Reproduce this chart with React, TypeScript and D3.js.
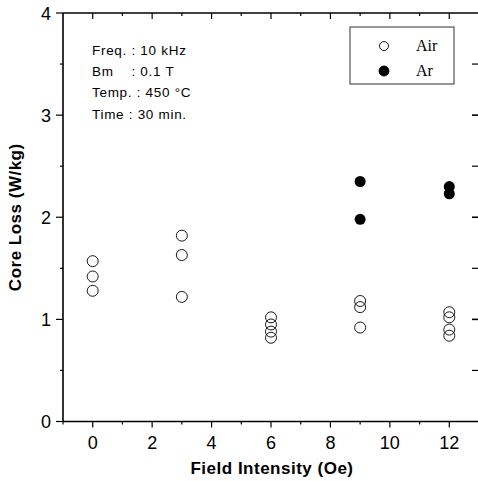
import { useEffect, useRef } from 'react'
import * as d3 from 'd3'

const W = 478, H = 481
const M = { left: 63, right: -1, top: 13, bottom: 59.5 }

const airX = [0, 0, 0, 3, 3, 3, 6, 6, 6, 6, 9, 9, 9, 12, 12, 12, 12]
const airY = [1.57, 1.42, 1.28, 1.82, 1.63, 1.22, 1.02, 0.95, 0.88, 0.82, 1.18, 1.12, 0.92, 1.07, 1.02, 0.9, 0.84]
const arX = [9, 9, 12, 12]
const arY = [2.35, 1.98, 2.3, 2.23]
const xTicks = [0, 2, 4, 6, 8, 10, 12]
const yTicks = [0, 1, 2, 3, 4]
const notes = ['Freq. : 10 kHz', 'Bm    : 0.1 T', 'Temp. : 450 °C', 'Time : 30 min.']
const legendItems = [{ label: 'Air', filled: false }, { label: 'Ar', filled: true }]

export default function App() {
  const ref = useRef<SVGSVGElement>(null)

  useEffect(() => {
    const svg = d3.select(ref.current)
    svg.selectAll('*').remove()
    const x = d3.scaleLinear([-1, 13], [M.left, W - M.right])
    const y = d3.scaleLinear([0, 4], [H - M.bottom, M.top])
    const sans = 'Liberation Sans, Arial, sans-serif'

    // frame lines
    svg.append('line').attr('x1', x(-1)).attr('x2', W).attr('y1', y(0)).attr('y2', y(0)).attr('stroke', '#000').attr('stroke-width', 1.6)
    svg.append('line').attr('x1', x(-1)).attr('x2', W).attr('y1', y(4)).attr('y2', y(4)).attr('stroke', '#000').attr('stroke-width', 1.6)
    svg.append('line').attr('x1', x(-1)).attr('x2', x(-1)).attr('y1', y(0)).attr('y2', y(4)).attr('stroke', '#000').attr('stroke-width', 1.6)

    // x ticks bottom (outward) and top (inward)
    d3.range(-1, 13).forEach(v => {
      const major = v % 2 === 0
      svg.append('line').attr('x1', x(v)).attr('x2', x(v)).attr('y1', y(0)).attr('y2', y(0) + (major ? 6 : 3)).attr('stroke', '#000').attr('stroke-width', 1.2)
      if (v >= 0)
        svg.append('line').attr('x1', x(v)).attr('x2', x(v)).attr('y1', y(4)).attr('y2', y(4) + (major ? 6 : 3)).attr('stroke', '#000').attr('stroke-width', 1.2)
    })
    // y ticks left (outward) and right (inward)
    d3.range(0, 4.01, 0.5).forEach(v => {
      const major = Number.isInteger(v)
      svg.append('line').attr('x1', x(-1) - (major ? 7 : 3)).attr('x2', x(-1)).attr('y1', y(v)).attr('y2', y(v)).attr('stroke', '#000').attr('stroke-width', 1.2)
      if (v > 0 && v < 4)
        svg.append('line').attr('x1', W - 6).attr('x2', W).attr('y1', y(v)).attr('y2', y(v)).attr('stroke', '#000').attr('stroke-width', major ? 1.6 : 1.2)
    })

    svg.selectAll('text.xt').data(xTicks).join('text').attr('class', 'xt')
      .attr('x', d => x(d)).attr('y', y(0) + 27).attr('text-anchor', 'middle')
      .attr('font-family', sans).attr('font-size', 18).text(d => d)
    svg.selectAll('text.yt').data(yTicks).join('text').attr('class', 'yt')
      .attr('x', x(-1) - 12).attr('y', d => y(d) + 6.5).attr('text-anchor', 'end')
      .attr('font-family', sans).attr('font-size', 18).text(d => d)

    svg.append('text').attr('x', 272).attr('y', 474).attr('text-anchor', 'middle')
      .attr('font-family', sans).attr('font-weight', 'bold').attr('font-size', 17).attr('letter-spacing', 0.5).text('Field Intensity (Oe)')
    svg.append('text').attr('transform', `translate(21,${y(2)}) rotate(-90)`).attr('text-anchor', 'middle')
      .attr('font-family', sans).attr('font-weight', 'bold').attr('font-size', 17).attr('letter-spacing', 0.5).text('Core Loss (W/kg)')

    // notes
    svg.selectAll('text.note').data(notes).join('text').attr('class', 'note')
      .attr('x', 92).attr('y', (_, i) => 55 + i * 21.2)
      .attr('font-family', sans).attr('font-size', 13.5).attr('letter-spacing', 0.7)
      .style('white-space', 'pre').text(d => d)

    // legend
    svg.append('rect').attr('x', 350).attr('y', 27).attr('width', 104).attr('height', 57)
      .attr('fill', 'none').attr('stroke', '#333').attr('stroke-width', 1)
    legendItems.forEach((it, i) => {
      const cy = 46 + i * 25
      svg.append('circle').attr('cx', 384).attr('cy', cy).attr('r', it.filled ? 5 : 4.5)
        .attr('fill', it.filled ? '#000' : 'none').attr('stroke', '#000').attr('stroke-width', 0.9)
      svg.append('text').attr('x', 416).attr('y', cy + 5).attr('font-family', 'Liberation Serif, serif')
        .attr('font-size', 16).text(it.label)
    })

    // data
    svg.selectAll('circle.air').data(airX.map((v, i) => [v, airY[i]])).join('circle').attr('class', 'air')
      .attr('cx', d => x(d[0])).attr('cy', d => y(d[1])).attr('r', 5.5)
      .attr('fill', 'none').attr('stroke', '#000').attr('stroke-width', 0.9)
    svg.selectAll('circle.ar').data(arX.map((v, i) => [v, arY[i]])).join('circle').attr('class', 'ar')
      .attr('cx', d => x(d[0])).attr('cy', d => y(d[1])).attr('r', 5.5).attr('fill', '#000')
  }, [])

  return <svg ref={ref} width={W} height={H} style={{ position: 'absolute', left: 0, top: 0, background: '#fff' }} />
}
